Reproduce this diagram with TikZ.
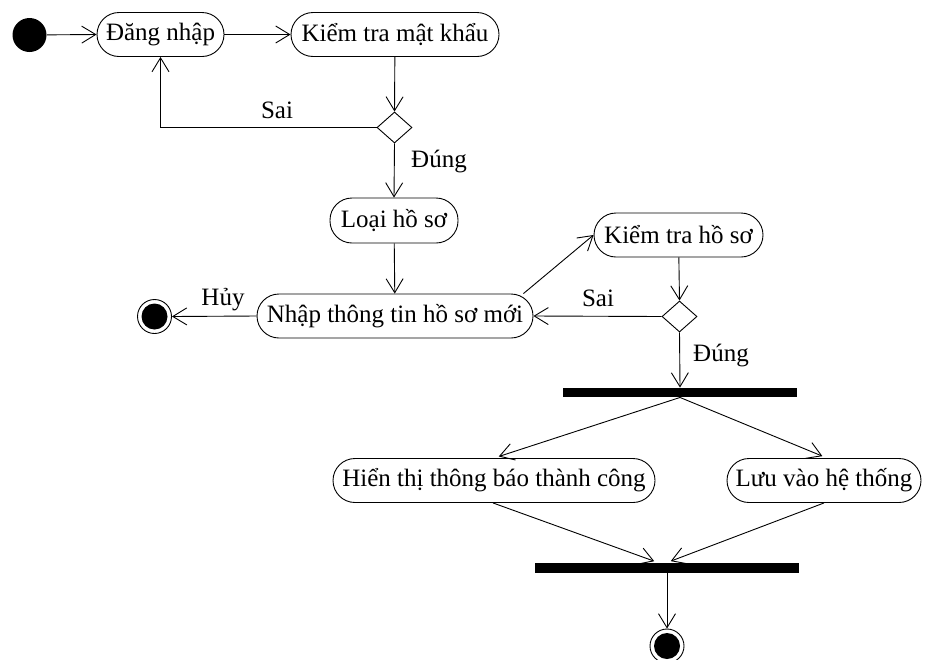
\documentclass[tikz,border=0pt]{standalone}
\usepackage{fontspec}
\setmainfont{Liberation Serif}
\usetikzlibrary{arrows.meta,shapes.geometric}
\begin{document}
\begin{tikzpicture}[x=1pt,y=-1pt,
  font=\fontsize{25}{30}\selectfont,
  line width=0.9pt,
  flow/.style={-{Straight Barb[length=14pt,width=17pt,line width=0.9pt]}},
  action/.style={draw,rectangle,rounded corners=22pt,minimum height=44pt,inner sep=0pt},
  choice/.style={draw,diamond,minimum width=35pt,minimum height=31pt,inner sep=0pt},
  bar/.style={fill=black,rectangle,inner sep=0pt},
  lbl/.style={inner sep=0pt}]
\useasboundingbox (0,0) rectangle (925,659);

% start and end markers
\node[circle,fill=black,minimum size=34pt,inner sep=0pt] (start) at (29.5,35) {};
\node[circle,draw,minimum size=34pt,inner sep=0pt] (endA) at (154.5,316.5) {};
\fill (endA.center) circle (13pt);
\node[circle,draw,minimum size=34pt,inner sep=0pt] (endB) at (667,646) {};
\fill (endB.center) circle (13pt);

% actions
\node[action,minimum width=127pt] (dn) at (160.5,34.5) {Đăng nhập};
\node[action,minimum width=208pt] (ktmk) at (395,34.5) {Kiểm tra mật khẩu};
\node[choice] (d1) at (394.5,127.5) {};
\node[action,minimum width=128pt,minimum height=45pt] (loai) at (394,220.5) {Loại hồ sơ};
\node[action,minimum width=276pt] (nhap) at (395,316) {Nhập thông tin hồ sơ mới};
\node[action,minimum width=169pt] (kths) at (678.5,235) {Kiểm tra hồ sơ};
\node[choice] (d2) at (679.5,316.5) {};
\node[bar,minimum width=234pt,minimum height=9pt] (fork) at (680,392.5) {};
\node[action,minimum width=322pt] (hien) at (494,480.5) {Hiển thị thông báo thành công};
\node[action,minimum width=194pt] (luu) at (824,480.5) {Lưu vào hệ thống};
\node[bar,minimum width=264pt,minimum height=10pt] (join) at (667,568) {};

% flows
\draw[flow] (start) -- (dn.west);
\draw[flow] (dn) -- (ktmk);
\draw[flow] (ktmk) -- (d1.north);
\draw[flow] (d1.west) -| (dn.south);
\node[lbl] (sai1) at (277,110) {Sai};
\draw[flow] (d1.south) -- (loai.north);
\node[lbl] (dung1) at (439,162) {Đúng};
\draw[flow] (loai) -- (nhap);
\draw[flow] (nhap.west) -- (endA.east);
\node[lbl] (huy) at (223,300) {Hủy};
\draw[flow] ([xshift=-10pt]nhap.north east) -- (kths.west);
\draw[flow] (kths) -- (d2.north);
\draw[flow] (d2.west) -- (nhap.east);
\node[lbl] (sai2) at (598,298) {Sai};
\draw[flow] (d2.south) -- (fork.north);
\node[lbl] (dung2) at (721,355) {Đúng};
\draw[flow,shorten >=5pt] (fork.south) -- (hien.north);
\draw[flow,shorten >=5pt] (fork.south) -- ([xshift=3pt]luu.north);
\draw[flow,shorten >=4pt] ([xshift=-1pt]hien.south) -- ([xshift=-9pt]join.north);
\draw[flow,shorten >=4pt] (luu.south) -- (join.north);
\draw[flow] (join.south) -- (endB.north);
\end{tikzpicture}
\end{document}
